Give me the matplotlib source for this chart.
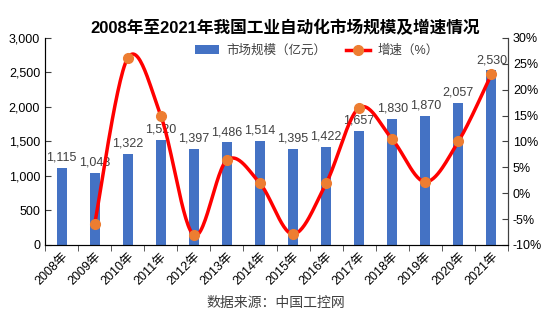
import numpy as np
import matplotlib.pyplot as plt
from matplotlib.ticker import FuncFormatter
from matplotlib.lines import Line2D

plt.rcParams['font.family'] = ['Liberation Sans', 'Noto Sans CJK SC', 'DejaVu Sans']

years = ['2008年', '2009年', '2010年', '2011年', '2012年', '2013年', '2014年',
         '2015年', '2016年', '2017年', '2018年', '2019年', '2020年', '2021年']
market = [1115, 1048, 1322, 1520, 1397, 1486, 1514, 1395, 1422, 1657, 1830, 1870, 2057, 2530]
growth_years = years[1:]
growth = [-6.0, 26.1, 15.0, -8.1, 6.4, 1.9, -7.9, 1.9, 16.5, 10.4, 2.2, 10.0, 23.0]


def smooth(x, y, n=30):
    # Catmull-Rom style smoothing like Excel's smoothed line
    x = np.asarray(x, float)
    y = np.asarray(y, float)
    px = np.concatenate([[x[0]], x, [x[-1]]])
    py = np.concatenate([[y[0]], y, [y[-1]]])
    xs, ys = [], []
    t = np.linspace(0, 1, n)
    for i in range(1, len(px) - 2):
        p0 = np.array([px[i], py[i]])
        p3 = np.array([px[i + 1], py[i + 1]])
        c1 = p0 + (np.array([px[i + 1], py[i + 1]]) - np.array([px[i - 1], py[i - 1]])) / 6
        c2 = p3 - (np.array([px[i + 2], py[i + 2]]) - np.array([px[i], py[i]])) / 6
        b = ((1 - t) ** 3)[:, None] * p0 + (3 * (1 - t) ** 2 * t)[:, None] * c1 \
            + (3 * (1 - t) * t ** 2)[:, None] * c2 + (t ** 3)[:, None] * p3
        xs.extend(b[:, 0])
        ys.extend(b[:, 1])
    return np.array(xs), np.array(ys)


fig = plt.figure(figsize=(5.53, 3.23), dpi=100)
ax = fig.add_axes([0.0814, 0.2415, 0.8372, 0.641])
x = np.arange(len(years))

bars = ax.bar(x, market, width=0.3, color='#4472C4', zorder=2, label='市场规模（亿元）')
for xi, v in zip(x, market):
    ax.annotate(f'{v:,}', (xi, v), xytext=(0, 3), textcoords='offset points',
                ha='center', va='bottom', fontsize=9, color='#404040')

ax.set_xlim(-0.5, len(years) - 0.5)
ax.set_ylim(0, 3000)
ax.set_yticks(range(0, 3001, 500))
ax.yaxis.set_major_formatter(FuncFormatter(lambda v, p: f'{int(v):,}'))
ax.set_xticks(x)
ax.set_xticklabels(years, rotation=45, ha='right', rotation_mode='anchor', fontsize=9)
ax.set_xticks(np.arange(-0.5, len(years), 1), minor=True)
ax.tick_params(axis='x', which='major', length=0, pad=4)
ax.tick_params(axis='x', which='minor', length=4, direction='out', color='#404040')
ax.tick_params(axis='y', direction='in', length=4, labelsize=9, color='#404040')
ax.spines['top'].set_visible(False)
for s in ['left', 'bottom', 'right']:
    ax.spines[s].set_color('#404040')

ax2 = ax.twinx()
gx = x[1:]
sx, sy = smooth(gx, growth)
ax2.plot(sx, sy, color='#FF0000', lw=2.5, zorder=3)
ax2.plot(gx, growth, 'o', color='#ED7D31', ms=7, zorder=4)
ax2.set_ylim(-10, 30)
ax2.set_yticks(range(-10, 31, 5))
ax2.yaxis.set_major_formatter(FuncFormatter(lambda v, p: f'{int(v)}%'))
ax2.tick_params(axis='y', direction='in', length=4, labelsize=9, color='#404040')
ax2.spines['top'].set_visible(False)
ax2.spines['right'].set_color('#404040')

h2 = Line2D([0], [0], color='#FF0000', lw=2.5, marker='o', markerfacecolor='#ED7D31',
            markeredgecolor='#ED7D31', ms=7)
fig.legend([bars, h2], ['市场规模（亿元）', '增速（%）'], loc='center',
           bbox_to_anchor=(0.573, 0.842), ncol=2, frameon=False, fontsize=9,
           handlelength=1.9, handletextpad=0.6, columnspacing=1.6, labelcolor='#404040')

fig.text(0.515, 0.913, '2008年至2021年我国工业自动化市场规模及增速情况',
         ha='center', va='center', fontsize=12, fontweight='bold')
fig.text(0.499, 0.062, '数据来源：中国工控网', ha='center', va='center',
         fontsize=10, color='#404040')

fig.savefig('out.png', dpi=100)
